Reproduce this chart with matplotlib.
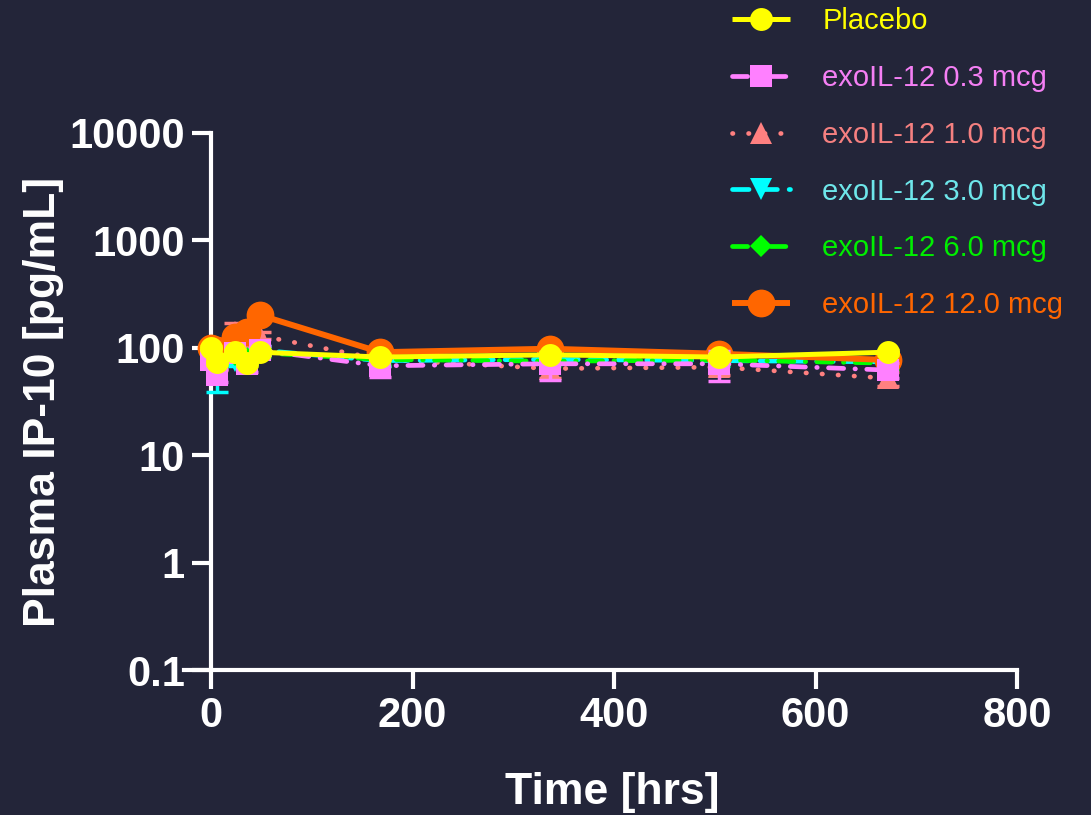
import matplotlib
matplotlib.use("Agg")
import matplotlib.pyplot as plt
from matplotlib.ticker import FixedLocator, FuncFormatter, NullLocator

# ---- data ----
times = [0, 6, 24, 36, 48, 168, 336, 504, 672]
placebo = [100, 74, 91, 72, 91, 82, 86, 82, 91]
dose_0_3 = [77, 56, 90, 70, 95, 68, 71, 71, 62]
dose_1_0 = [90, 70, 140, 120, 130, 78, 64, 66, 52]
dose_3_0 = [85, 60, 75, 78, 95, 76, 78, 76, 74]
dose_6_0 = [88, 75, 85, 80, 90, 78, 75, 77, 72]
dose_12_0 = [100, 95, 126, 140, 202, 91, 98, 88, 77]

err_placebo = [5, 5, 5, 5, 5, 5, 5, 5, 5]
err_0_3 = [10, 8, 10, 10, 10, 15, 21, 22, 10]
err_1_0 = [10, 8, 30, 10, 10, 10, 12, 10, 8]
err_3_0 = [10, 21, 8, 8, 10, 8, 8, 8, 8]
err_6_0 = [8, 8, 8, 8, 8, 8, 8, 8, 8]
err_12_0 = [8, 8, 10, 10, 10, 8, 8, 8, 8]

labels = ["Placebo", "exoIL-12 0.3 mcg", "exoIL-12 1.0 mcg",
          "exoIL-12 3.0 mcg", "exoIL-12 6.0 mcg", "exoIL-12 12.0 mcg"]
label_colors = ["#ffff00", "#f47ff4", "#f58080", "#6ee6ea", "#00ee00", "#ff6600"]
xticks = [0, 200, 400, 600, 800]
yticks = [0.1, 1, 10, 100, 1000, 10000]

BG = "#232539"
FG = "white"

plt.rcParams['font.family'] = ['Liberation Sans', 'DejaVu Sans']

fig = plt.figure(figsize=(10.91, 8.15), dpi=100, facecolor=BG)
ax = fig.add_axes([184/1091, 1-670/815, (1017-184)/1091, (670-133)/815])
ax.set_facecolor(BG)

series = [
    # values, errors, color, marker, ms, lw, linestyle, zorder
    (placebo, err_placebo, "#ffff00", "o", 16.5, 3.6, "-", 8),
    (dose_0_3, err_0_3, "#ff80ff", "s", 16, 3.4, (0, (3.2, 2.4, 0.1, 2.4)), 7),
    (dose_1_0, err_1_0, "#ff8080", "^", 16, 3.4, (0, (0.1, 3.3)), 3),
    (dose_3_0, err_3_0, "#00ffff", "v", 16, 3.4, (0, (3.5, 2.5)), 4),
    (dose_6_0, err_6_0, "#00ff00", "D", 11.5, 3.4, (0, (3.2, 2.4, 0.1, 2.4)), 5),
    (dose_12_0, err_12_0, "#ff6600", "o", 20, 4.3, "-", 6),
]

handles = []
for (vals, errs, col, mk, ms, lw, ls, z), lab in zip(series, labels):
    ax.errorbar(times, vals, yerr=errs, fmt='none', ecolor=col, elinewidth=2.5,
                capsize=8, capthick=2.5, zorder=z - 0.5)
    h, = ax.plot(times, vals, color=col, marker=mk, markersize=ms, lw=lw,
                 linestyle=ls, markeredgewidth=0, dash_capstyle='round',
                 solid_capstyle='butt', zorder=z, label=lab)
    handles.append(h)

ax.set_yscale('log')
ax.set_ylim(0.1, 10000)
ax.set_xlim(-27, 800)
ax.yaxis.set_major_locator(FixedLocator(yticks))
ax.yaxis.set_minor_locator(NullLocator())
ax.yaxis.set_major_formatter(FuncFormatter(lambda v, p: f"{v:g}"))
ax.set_xticks(xticks)

for s in ['top', 'right']:
    ax.spines[s].set_visible(False)
ax.spines['left'].set_position(('data', 0))
for s in ['left', 'bottom']:
    ax.spines[s].set_color(FG)
    ax.spines[s].set_linewidth(3)
    ax.spines[s].set_capstyle('projecting')

ax.tick_params(axis='both', colors=FG, width=3, length=14, pad=5,
               labelsize=30)
for t in ax.get_xticklabels() + ax.get_yticklabels():
    t.set_fontweight('bold')
    t.set_color(FG)

ax.set_xlabel("Time [hrs]", fontsize=32, fontweight='bold', color=FG)
ax.xaxis.set_label_coords((612-184)/(1017-184), -0.19)
ax.set_ylabel("Plasma IP-10 [pg/mL]", fontsize=32, fontweight='bold', color=FG, labelpad=4)

leg = fig.legend(handles=handles, loc='upper left',
                 bbox_to_anchor=(732/1091, 1 - 7/815), frameon=False,
                 fontsize=21, handlelength=2.0, handletextpad=1.1,
                 labelspacing=0.99, borderpad=0, borderaxespad=0, numpoints=1)
for txt, col in zip(leg.get_texts(), label_colors):
    txt.set_color(col)

fig.savefig("out.png", dpi=100, facecolor=BG)
